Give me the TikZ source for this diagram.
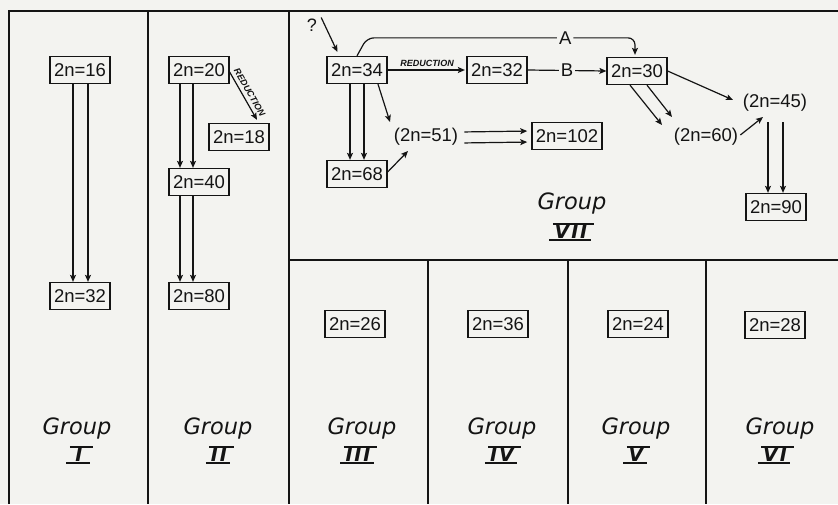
\documentclass[tikz,border=0pt]{standalone}
\usepackage{fontspec}
\setmainfont{Liberation Sans}
\newfontfamily\grpfont{DejaVu Sans}
\newfontfamily\numfont{DejaVu Sans}[LetterSpace=10]
\usetikzlibrary{arrows.meta,calc}
\definecolor{paper}{RGB}{243,243,240}
\definecolor{ink}{RGB}{20,20,20}
\newcommand\bxfont{\fontsize{18.5}{20}\selectfont}
\newcommand\grfont{\grpfont\itshape\fontsize{22.5}{24}\selectfont}
\newcommand\nmfont{\numfont\bfseries\itshape\fontsize{19}{20}\selectfont}
\newcommand\rdfont{\bfseries\itshape\fontsize{9}{10}\selectfont}
\begin{document}
\begin{tikzpicture}[x=1pt,y=-1pt,
  box/.style={draw=ink, line width=1.3pt, font=\bxfont, text=ink, inner xsep=4pt, minimum height=27pt},
  pbox/.style={font=\bxfont, text=ink, inner xsep=2pt, inner ysep=3pt},
  arr/.style={draw=ink, line width=1.2pt, -{Stealth[length=7pt,width=6pt,inset=1.5pt]}},
  frame/.style={draw=ink, line width=1.6pt},
  grp/.style={font=\grfont, text=ink, inner sep=1pt},
  numeral/.style={font=\nmfont, text=ink, inner xsep=4pt, inner ysep=1pt, minimum width=23pt,
    append after command={([xshift=2.5pt]\tikzlastnode.north west) edge[draw=ink, line width=1.7pt] ([xshift=2.5pt]\tikzlastnode.north east)
      ([xshift=-1pt]\tikzlastnode.south west) edge[draw=ink, line width=1.7pt] ([xshift=-1pt]\tikzlastnode.south east)}},
  red/.style={font=\rdfont, text=ink, inner sep=1pt},
  lab/.style={font=\bxfont, text=ink, fill=paper, inner sep=2pt}
]
\fill[paper] (0,0) rectangle (838,504);
\useasboundingbox (0,0) rectangle (838,504);

% frame
\draw[frame] (9,504) -- (9,11) -- (838,11);
\draw[frame] (148,11) -- (148,504);
\draw[frame] (289,11) -- (289,504);
\draw[frame] (289,260) -- (838,260);
\draw[frame] (428,260) -- (428,504);
\draw[frame] (568,260) -- (568,504);
\draw[frame] (706,260) -- (706,504);

% Group I
\node[box] (n16) at (80,70) {2n=16};
\node[box] (n32a) at (80,296) {2n=32};
\draw[arr] ([xshift=-7pt]n16.south) -- ([xshift=-7pt]n32a.north);
\draw[arr] ([xshift=8pt]n16.south) -- ([xshift=8pt]n32a.north);
\node[grp] (g1) at (77,428) {Group};
\node[numeral] (r1) at (79,455) {I};

% Group II
\node[box] (n20) at (199,70) {2n=20};
\node[box] (n18) at (239,137) {2n=18};
\node[box] (n40) at (199,182) {2n=40};
\node[box] (n80) at (199,296) {2n=80};
\draw[arr] ([xshift=-19pt]n20.south) -- ([xshift=-19pt]n40.north);
\draw[arr] ([xshift=-6pt]n20.south) -- ([xshift=-6pt]n40.north);
\draw[arr] ([xshift=-19pt]n40.south) -- ([xshift=-19pt]n80.north);
\draw[arr] ([xshift=-6pt]n40.south) -- ([xshift=-6pt]n80.north);
\draw[arr] ([yshift=-2pt]n20.east) -- node[red, sloped, above=2.5pt] {REDUCTION} ([xshift=18pt,yshift=3pt]n18.north);
\node[grp] (g2) at (218,428) {Group};
\node[numeral] (r2) at (219,455) {II};

% Group VII
\node[box] (n34) at (357,70) {2n=34};
\node[font=\fontsize{18}{19}\selectfont, text=ink, inner sep=1pt] (q) at (312,25) {?};
\draw[arr] ([xshift=3pt]q.north east) -- ([xshift=11pt,yshift=4pt]n34.north west);
\node[box] (n32b) at (497,70) {2n=32};
\node[box] (n30) at (637,71) {2n=30};
\draw[arr, shorten >=1.5pt] (n34.east) -- node[red, above=2pt] {REDUCTION} (n32b.west);
\draw[arr, rounded corners=7pt, shorten >=2pt] (n34.north) -- ++(10,-18) -| node[pos=0.37, lab] {A} ([xshift=-2pt]n30.north);
\draw[arr] (n32b.east) -- node[lab] {B} (n30.west);

\node[box] (n68) at (357,174) {2n=68};
\node[pbox] (n51) at (426,137) {(2n=51)};
\node[box] (n102) at (567,136) {2n=102};
\draw[arr] ([xshift=-7pt]n34.south) -- ([xshift=-7pt]n68.north);
\draw[arr] ([xshift=7pt]n34.south) -- ([xshift=7pt]n68.north);
\draw[arr] ([xshift=21pt]n34.south) -- ([xshift=-36pt,yshift=15pt]n51.center);
\draw[arr] ([yshift=2pt]n68.east) -- ([xshift=-18pt,yshift=-14pt]n51.center);
\draw[arr, shorten <=4pt, shorten >=4pt] ([yshift=5pt]n51.east) -- ([yshift=5pt]n102.west);
\draw[arr, shorten <=4pt, shorten >=4pt] ([yshift=-6pt]n51.east) -- ([yshift=-6pt]n102.west);

\node[pbox] (n60) at (706,137) {(2n=60)};
\node[pbox] (n45) at (775,103) {(2n=45)};
\node[box] (n90) at (776,207) {2n=90};
\draw[arr] (n30.east) -- ([xshift=-42pt,yshift=3pt]n45.center);
\draw[arr] ([xshift=-7pt]n30.south) -- ([xshift=-44pt,yshift=12pt]n60.center);
\draw[arr] ([xshift=10pt]n30.south) -- ([xshift=-34pt,yshift=20pt]n60.center);
\draw[arr] ([yshift=2pt]n60.east) -- ([xshift=-12pt,yshift=-14pt]n45.center);
\draw[arr] ([xshift=-7pt,yshift=-19pt]n45.center) -- ([xshift=-8pt]n90.north);
\draw[arr] ([xshift=8pt,yshift=-19pt]n45.center) -- ([xshift=7pt]n90.north);
\node[grp] (g7) at (572,203) {Group};
\node[numeral] (r7) at (571,232) {VII};

% Lower groups
\node[box] (n26) at (355,324) {2n=26};
\node[box] (n36) at (498,324) {2n=36};
\node[box] (n24) at (638,324) {2n=24};
\node[box] (n28) at (775,325) {2n=28};
\node[grp] (g3) at (362,428) {Group};
\node[numeral] (r3) at (358,455) {III};
\node[grp] (g4) at (502,428) {Group};
\node[numeral] (r4) at (502,455) {IV};
\node[grp] (g5) at (636,428) {Group};
\node[numeral] (r5) at (636,455) {V};
\node[grp] (g6) at (780,428) {Group};
\node[numeral] (r6) at (775,455) {VI};
\end{tikzpicture}
\end{document}
